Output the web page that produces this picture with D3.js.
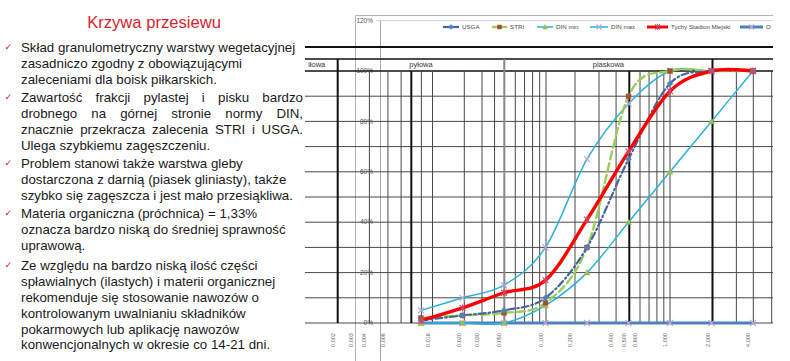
<!DOCTYPE html>
<html><head><meta charset="utf-8">
<script src="https://cdn.jsdelivr.net/npm/d3@7"></script>
<style>body{margin:0;background:#fff}svg{display:block}</style>
</head><body>
<svg id="c" width="790" height="361"></svg>
<script>
// ---------------- DATA ----------------
const categories = ["0,01","0,02","0,05","0,1","0,25","0,5","1","2","4"]; // sieve sizes [mm]
const usga   = [1, 3, 5, 10, 30, 65, 95, 100, 100];
const stri   = [2, 3, 4, 8, 30, 90, 100, 100, 100];
const dinMin = [0, 0, 0, 7, 20, 40, 60, 80, 100];
const dinMax = [5, 10, 15, 30, 65, 87, 100, 100, 100];
const tychy  = [1, 6, 12, 17, 41, 68, 92, 100, 100];
const seriesO = [0, 0, 0, 0, 0, 0, 0, 0, 0];
const yTicks = [0, 20, 40, 60, 80, 100, 120];
const gridPct = [0,10,20,30,40,50,60,70,80,90,100];
// overlay grain-size grid (mm)
const grainLines = [0.002,0.004,0.006,0.008,0.01,0.0125,0.016,0.02,0.03,0.04,0.05,0.06,0.07,0.08,0.09,0.1,0.2,0.3,0.4,0.5,0.6,0.7,0.8,0.9,1,2,3,4,5];
const grainThick = [0.002,0.01,0.5,2];
const grainFraction = [0.002,0.05,2];
const grainLabels = [0.002,0.003,0.004,0.006,0.016,0.02,0.03,0.05,0.1,0.2,0.4,0.5,0.6,1,2,4];
const fractions = [{name:"iłowa",from:0.0008,to:0.002},{name:"pyłowa",from:0.002,to:0.05},{name:"piaskowa",from:0.05,to:2}];
const title = "Krzywa przesiewu";
const bullets = [
  {lines:["Skład granulometryczny warstwy wegetacyjnej","zasadniczo zgodny z obowiązującymi","zaleceniami dla boisk piłkarskich."], just:[0,0,0]},
  {lines:["Zawartość frakcji pylastej i pisku bardzo","drobnego na górnej stronie normy DIN,","znacznie przekracza zalecenia STRI i USGA.","Ulega szybkiemu zagęszczeniu."], just:[1,1,1,0]},
  {lines:["Problem stanowi także warstwa gleby","dostarczona z darnią (piasek gliniasty), także","szybko się zagęszcza i jest mało przesiąkliwa."], just:[0,0,0]},
  {lines:["Materia organiczna (próchnica) = 1,33%","oznacza bardzo niską do średniej sprawność","uprawową."], just:[0,0,0]},
  {lines:["Ze względu na bardzo niską ilość części","spławialnych (ilastych) i materii organicznej","rekomenduje się stosowanie nawozów o","kontrolowanym uwalnianiu składników","pokarmowych lub aplikację nawozów","konwencjonalnych w okresie co 14-21 dni."], just:[0,0,0,0,0,0]}
];

// ---------------- LAYOUT ----------------
const svg = d3.select("#c");
const FONT = "'Liberation Sans', Arial, sans-serif";

// text panel
svg.append("text").attr("x",154).attr("y",28.3).attr("text-anchor","middle")
  .style("font-family",FONT).style("font-size","16.6px").style("fill","#d8232f").text(title);

let yb = 52.3; const step = 15.8; const gaps = [18.4,18.4,18.3,20.7];
bullets.forEach((b,bi)=>{
  svg.append("text").attr("x",4.5).attr("y",yb-2.5).style("font-family","'DejaVu Sans',sans-serif")
    .style("font-size","9px").style("fill","#c8102e").text("✓");
  b.lines.forEach((ln,li)=>{
    const t = svg.append("text").attr("x",21).attr("y",yb)
      .style("font-family",FONT).style("font-size","13.3px").style("fill","#1a1a1a").text(ln);
    if (b.just[li]) {
      const w = t.node().getComputedTextLength();
      const n = ln.split(" ").length-1;
      t.style("word-spacing", ((303-21-w)/n)+"px");
    }
    if (li < b.lines.length-1) yb += step;
  });
  if (bi < gaps.length) yb += gaps[bi];
});

// ---------------- CHART ----------------
const y = d3.scaleLinear().domain([0,120]).range([323,20.6]);
const x = d3.scalePoint().domain(categories).range([421,753]);
// overlay grain-size scale (piecewise log, as printed on the grid form)
const g = d3.scaleLog()
  .domain([0.002,0.01,0.016,0.02,0.05,0.1,0.2,0.5,1,2,4,5])
  .range([337.7,411.3,432.5,464.3,504.3,546,575,629.3,670,712.5,753.3,771.7]);

const chart = svg.append("g");
chart.append("path").attr("d","M355.5,361V15.5H773")
  .attr("fill","none").attr("stroke","#b4b4b4").attr("stroke-width",1);
chart.append("line").attr("x1",380.5).attr("x2",380.5).attr("y1",y(120)).attr("y2",361)
  .attr("stroke","#a8a8a8");
chart.append("line").attr("x1",376).attr("x2",773).attr("y1",y(120)).attr("y2",y(120))
  .attr("stroke","#d4d4d4");
chart.selectAll(".yl").data(yTicks).join("text").attr("x",373).attr("y",d=>y(d)+2.2)
  .attr("text-anchor","end").style("font-family",FONT).style("font-size","6.5px")
  .style("fill","#555").text(d=>d+"%");

// overlay grid
const ov = svg.append("g");
const xl = 305, xr = 773;
ov.append("line").attr("x1",xl).attr("x2",xr).attr("y1",47).attr("y2",47).attr("stroke","#111").attr("stroke-width",2);
ov.append("line").attr("x1",xl).attr("x2",xr).attr("y1",59).attr("y2",59).attr("stroke","#111").attr("stroke-width",1.5);
ov.selectAll(".hg").data(gridPct).join("line")
  .attr("x1",xl).attr("x2",xr).attr("y1",d=>y(d)).attr("y2",d=>y(d))
  .attr("stroke",d=>d===100?"#111":"#484848").attr("stroke-width",d=>d===100?1.6:1);
ov.selectAll(".vg").data(grainLines).join("line")
  .attr("x1",d=>g(d)).attr("x2",d=>g(d))
  .attr("y1",d=>grainFraction.includes(d)?59:y(100)).attr("y2",y(0))
  .attr("stroke",d=>d===0.05?"#888":(grainThick.includes(d)?"#111":"#484848"))
  .attr("stroke-width",d=>(grainThick.includes(d)||d===0.05)?2:1);
ov.selectAll(".fl").data(fractions).join("text")
  .attr("x",d=>(g(d.from)+g(d.to))/2).attr("y",66.5).attr("text-anchor","middle")
  .style("font-family",FONT).style("font-size","7.5px").style("fill","#333").text(d=>d.name);
ov.selectAll(".gl").data(grainLabels).join("text")
  .attr("transform",d=>`translate(${g(d)-3},340) rotate(-90)`)
  .attr("text-anchor","middle").style("font-family",FONT).style("font-size","5.5px")
  .style("fill","#666").text(d=>d.toFixed(3).replace(".",","));

// series
const line = d3.line().x((d,i)=>x(categories[i])).y(d=>y(d)).curve(d3.curveCatmullRom.alpha(0));
const S = [
  {name:"USGA", data:usga, color:"#45659a", w:2.2, dash:"7,3,1.5,3", m:"diamond", mc:"#4f81bd"},
  {name:"STRI", data:stri, color:"#9acd5a", w:2.4, dash:"8,4", m:"square", mc:"#a0522d"},
  {name:"DIN min", data:dinMin, color:"#2cb1d9", w:1.5, dash:null, m:"triangle", mc:"#9bbb59"},
  {name:"DIN max", data:dinMax, color:"#2cb1d9", w:1.5, dash:null, m:"x", mc:"#b9a6d6"},
  {name:"Tychy Stadion Miejski", data:tychy, color:"#ff0000", w:3.4, dash:null, m:"star", mc:"#d04868"},
  {name:"O", data:seriesO, color:"#4f81bd", w:3, dash:null, m:"x", mc:"#b9a6d6"}
];
function markerPath(type, s){
  if(type==="diamond") return `M0,${-s}L${s},0L0,${s}L${-s},0Z`;
  if(type==="square") return `M${-s*0.8},${-s*0.8}h${s*1.6}v${s*1.6}h${-s*1.6}Z`;
  if(type==="triangle") return `M0,${-s}L${s},${s*0.8}L${-s},${s*0.8}Z`;
  if(type==="x") return `M${-s},${-s}L${s},${s}M${-s},${s}L${s},${-s}`;
  if(type==="star") return `M${-s},${-s}L${s},${s}M${-s},${s}L${s},${-s}M0,${-s*1.2}L0,${s*1.2}`;
}
const order = [5,2,3,1,0,4];
order.forEach(k=>{
  const s = S[k];
  svg.append("path").attr("d",line(s.data)).attr("fill","none").attr("stroke",s.color)
    .attr("stroke-width",s.w).attr("stroke-dasharray",s.dash).attr("stroke-linecap","round");
});
order.forEach(k=>{
  const s = S[k];
  const stroke = (s.m==="x"||s.m==="star");
  svg.selectAll(null).data(s.data).join("path")
    .attr("transform",(d,i)=>`translate(${x(categories[i])},${y(d)})`)
    .attr("d",markerPath(s.m,3))
    .attr("fill",stroke?"none":s.mc).attr("stroke",s.mc).attr("stroke-width",stroke?1.2:0.5);
});

// legend
const legX = [443,492,537,590,647,740];
const legW = [16,15,16,18,21,23];
const lg = svg.append("g");
S.forEach((s,i)=>{
  const x0 = legX[i], yy = 27;
  lg.append("line").attr("x1",x0).attr("x2",x0+legW[i]).attr("y1",yy).attr("y2",yy)
    .attr("stroke",s.color).attr("stroke-width",Math.min(s.w,3));
  const stroke = (s.m==="x"||s.m==="star");
  lg.append("path").attr("transform",`translate(${x0+legW[i]/2},${yy})`).attr("d",markerPath(s.m,2.5))
    .attr("fill",stroke?"none":s.mc).attr("stroke",s.mc).attr("stroke-width",stroke?1.1:0.5);
  lg.append("text").attr("x",x0+legW[i]+3).attr("y",yy+2.2).style("font-family",FONT)
    .style("font-size","6.2px").style("fill","#444").text(s.name);
});
</script>
</body></html>
